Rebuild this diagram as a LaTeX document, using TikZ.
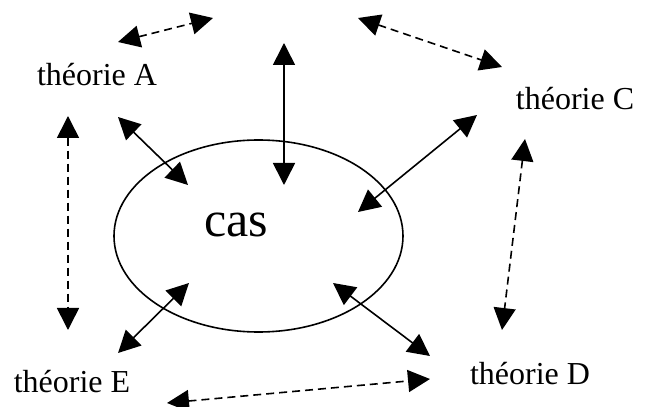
\documentclass[tikz,border=0pt]{standalone}
\usepackage{fontspec}
\setmainfont{Liberation Serif}
\usetikzlibrary{arrows.meta, shapes.geometric}

\begin{document}
\begin{tikzpicture}[x=0.5pt, y=-0.5pt,
    lien/.style={line width=0.8pt, {Triangle[length=11pt, width=11pt]}-{Triangle[length=11pt, width=11pt]}},
    lienfaible/.style={lien, dash pattern=on 4pt off 2.5pt},
    theorie/.style={font=\fontsize{16}{19}\selectfont, anchor=base}]
    \useasboundingbox (0,0) rectangle (645,407);

    % le cas au centre
    \node[draw, ellipse, line width=0.8pt, minimum width=144.5pt, minimum height=96pt, inner sep=0pt] (cas) at (258.5,236) {};
    \node[font=\fontsize{25}{30}\selectfont, anchor=base] (cas-texte) at (236.5,237) {cas};

    % les theories
    \node[theorie] (thA) at (97,85) {théorie A};
    \node[theorie] (thC) at (575,110) {théorie C};
    \node[theorie] (thE) at (72,393) {théorie E};
    \node[theorie] (thD) at (530,385) {théorie D};

    % bouts des fleches
    \coordinate (hautG1) at (118,42);
    \coordinate (hautG2) at (213,18);
    \coordinate (hautD1) at (358,18);
    \coordinate (hautD2) at (502,67);
    \coordinate (haut) at (284,43);
    \coordinate (cas-haut) at (284,185);
    \coordinate (A-bas) at (118,117);
    \coordinate (cas-A) at (188,185);
    \coordinate (C-bas) at (477,115);
    \coordinate (cas-C) at (358,212);
    \coordinate (C-sous) at (525,139);
    \coordinate (D-dessus) at (502,330);
    \coordinate (A-sous) at (68,116);
    \coordinate (E-dessus) at (68,330);
    \coordinate (E-haut) at (118,353);
    \coordinate (cas-E) at (189,283);
    \coordinate (D-haut) at (430,356);
    \coordinate (cas-D) at (333,283);
    \coordinate (E-droite) at (167,403);
    \coordinate (D-gauche) at (430,379);

    % liens avec le cas
    \draw[lien] (haut) -- (cas-haut);
    \draw[lien] (A-bas) -- (cas-A);
    \draw[lien] (C-bas) -- (cas-C);
    \draw[lien] (E-haut) -- (cas-E);
    \draw[lien] (D-haut) -- (cas-D);

    % liens entre theories
    \draw[lienfaible] (hautG1) -- (hautG2);
    \draw[lienfaible] (hautD1) -- (hautD2);
    \draw[lienfaible] (C-sous) -- (D-dessus);
    \draw[lienfaible] (A-sous) -- (E-dessus);
    \draw[lienfaible] (E-droite) -- (D-gauche);
\end{tikzpicture}
\end{document}
